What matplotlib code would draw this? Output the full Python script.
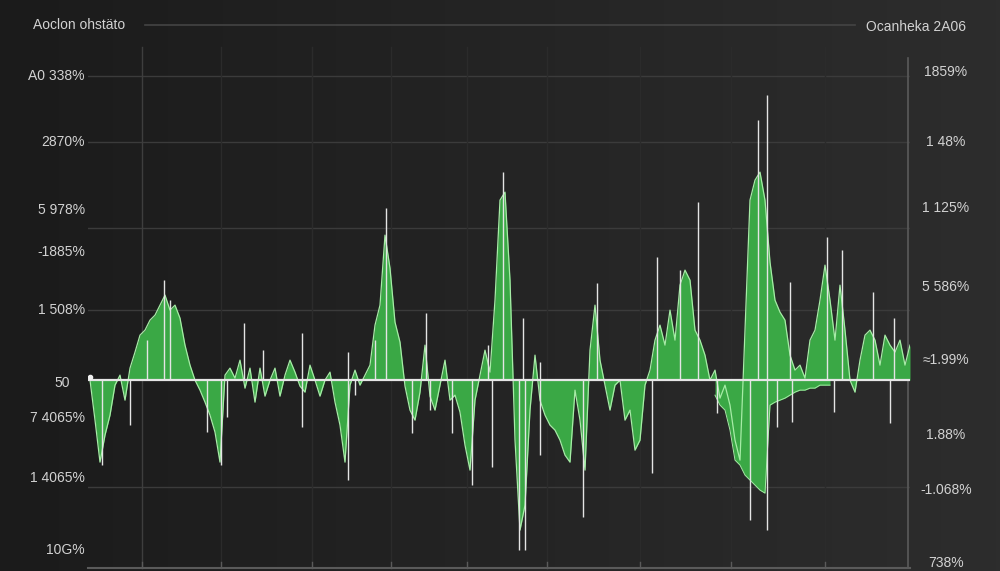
import numpy as np
import matplotlib
matplotlib.use("Agg")
import matplotlib.pyplot as plt
from matplotlib.transforms import blended_transform_factory
from matplotlib.colors import LinearSegmentedColormap

# ---------------- data ----------------
series_main = [
    0, -40, -82, -55, -35, -5, 5, -20, 12, 28,
    45, 50, 60, 65, 75, 85, 70, 75, 62, 35,
    15, 0, -10, -22, -35, -52, -82, 5, 12, 2,
    20, -8, 12, -22, 12, -16, 0, 12, -16, 5,
    20, 8, -6, -12, 15, 0, -16, 0, 8, -22,
    -45, -82, -5, 10, -5, 5, 15, 55, 75, 145,
    112, 58, 38, -6, -30, -40, -12, 35, -16, -30,
    -5, 20, -20, -15, -32, -65, -90, -20, 5, 30,
    8, 80, 180, 188, 100, -60, -150, -125, -30, 25,
    -20, -35, -45, -50, -60, -75, -82, -10, -40, -90,
    30, 75, 20, -5, -30, -5, 0, -40, -30, -70,
    -60, -5, 10, 40, 55, 35, 70, 40, 95, 110,
    100, 50, 40, 25, 0, 10, -18, -5, -25, -60,
    -80, 50, 180, 200, 208, 180, 118, 80, 68, 60,
    25, 10, 15, 2, 40, 50, 80, 115, 80, 40,
    95, 50, 0, -12, 20, 45, 50, 40, 15, 45,
    35, 28, 40, 15, 35,
]
trough_start = 125
series_trough = [
    -15, -25, -30, -50, -80, -85, -95, -100, -105, -110,
    -113, -25, -22, -20, -18, -15, -12, -10, -10, -8,
    -8, -5, -5, -5,
]
spike_at = [2.4, 8, 11.4, 14.8, 16, 23.4, 27.4, 26.2, 30.8, 34.6,
            42.4, 42.4, 51.6, 51.6, 53, 57, 59.2, 64.4, 67.2, 68,
            72.4, 76.4, 79.6, 80.4, 82.6, 85.8, 87, 86.6, 90, 90,
            98.6, 101.4, 112.4, 113.4, 118, 121.6, 125.4, 132, 133.6, 135.4,
            135.4, 137.4, 140, 140.4, 147.4, 148.8, 150.4, 156.6, 160, 160.8]
spike_val = [-85, -45, 40, 100, 80, -52, -37, -85, 57, 30,
             47, -47, 28, -100, -15, 40, 172, -53, 67, -30,
             -53, -105, 35, -87, 208, -170, -170, 62, 18, -75,
             -137, 97, -93, 123, 110, 178, -33, -140, 260, 285,
             -150, -47, 98, -42, 143, -32, 130, 88, -43, 62]

left_labels = ["A0 338%", "2870%", "5 978%", "-1885%", "1 508%", "50",
               "7 4065%", "1 4065%", "10G%"]
left_label_pos = [304, 238, 170, 128, 70, -3, -38, -98, -170]
right_labels = ["1859%", "1 48%", "1 125%", "5 586%", "\u22481.99%", "1.88%",
                "-1.068%", "738%"]
right_label_pos = [308, 238, 172, 93, 20, -55, -110, -183]
grid_levels = [304, 238, 152, 70, -107]
vgrid_at = [10.4, 26.2, 44.4, 60.2, 75.4, 91.4, 110, 128.2, 147]
title_left = "Aoclon ohst\u00e4to"
title_right = "Ocanheka 2A06"

# ---------------- figure ----------------
plt.rcParams['font.family'] = ['Liberation Sans', 'DejaVu Sans']
fig = plt.figure(figsize=(10, 5.71), dpi=100)

bg = fig.add_axes([0, 0, 1, 1], zorder=-5)
grad = np.linspace(0, 1, 256).reshape(1, -1)
cmap = LinearSegmentedColormap.from_list("bg", ["#1b1b1b", "#242424", "#2d2d2d"])
bg.imshow(grad, aspect='auto', cmap=cmap, extent=[0, 1, 0, 1])
bg.set_axis_off()

ax = fig.add_axes([0.088, 0.005, 0.822, 0.951])
ax.set_facecolor('none')
n = len(series_main)
x = np.arange(n)
y = np.array(series_main, dtype=float)
ax.set_xlim(-0.4, n - 1)
ax.set_ylim(-188, 355)

txt = '#d2d2d2'
grid_c = '#3b3b3b'
for g in grid_levels:
    ax.axhline(g, color=grid_c, lw=1.0, zorder=0)
for i, vx in enumerate(vgrid_at):
    ax.axvline(vx, color='#3e3e3e' if i == 0 else '#2b2b2b', lw=1.0, zorder=0,
               ymin=0, ymax=0.96)
ax.axvline(n - 1.4, color='#5a5a5a', lw=1.2, ymax=0.94, zorder=1)

green = '#3aa845'
ax.fill_between(x, 0, y, color=green, lw=0, interpolate=True, zorder=2)
xt = np.arange(trough_start, trough_start + len(series_trough))
yt = np.array(series_trough, dtype=float)
ax.fill_between(xt, 0, yt, color=green, lw=0, zorder=2)
ax.plot(x, y, color='#a6eca6', lw=0.9, zorder=3)
ax.plot(xt, yt, color='#a6eca6', lw=0.7, zorder=3)

ax.vlines(spike_at, 0, spike_val, color='#e4e4e4', lw=1.0, zorder=4)

ax.axhline(0, color='#e6e6e6', lw=1.6, zorder=5)
ax.plot([0], [3], marker='o', ms=3, color='#f0f0f0', zorder=6)

for s in ax.spines.values():
    s.set_visible(False)
ax.set_xticks([])
ax.set_yticks([])
ax.plot([-0.4, n - 1], [-188, -188], color='#5a5a5a', lw=1.5, clip_on=False, zorder=1)
for vx in vgrid_at:
    ax.plot([vx, vx], [-188, -182], color='#5a5a5a', lw=1, clip_on=False)

trl = blended_transform_factory(fig.transFigure, ax.transData)
for lab, p in zip(left_labels, left_label_pos):
    xr = 0.070 if lab == "50" else 0.085
    fig.text(xr, p, lab, transform=trl, ha='right', va='center', color=txt,
             fontsize=10)
for lab, p in zip(right_labels, right_label_pos):
    fig.text(0.946, p, lab, transform=trl, ha='center', va='center', color=txt,
             fontsize=10)

fig.text(0.033, 1 - 25 / 571, title_left, ha='left', va='center', color=txt, fontsize=10)
fig.text(0.966, 1 - 27 / 571, title_right, ha='right', va='center', color=txt, fontsize=10)
fig.add_artist(plt.Line2D([0.145, 0.855], [1 - 25 / 571] * 2, color='#444444', lw=1.2))

fig.savefig('out.png', dpi=100, facecolor='#1e1e1e')
